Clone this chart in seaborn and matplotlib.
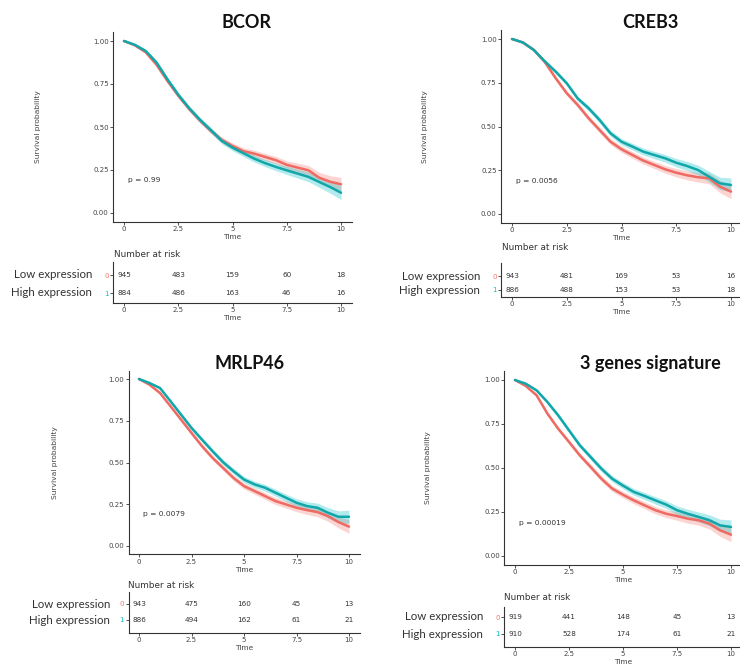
import matplotlib
matplotlib.use("Agg")
import matplotlib.pyplot as plt
import numpy as np
import pandas as pd
import seaborn as sns

sns.set_theme(style="white")
plt.rcParams["font.family"] = ["DejaVu Sans"]

# ---------------- data ----------------
times = [0, 0.5, 1, 1.5, 2, 2.5, 3, 3.5, 4, 4.5, 5, 5.5, 6, 6.5, 7, 7.5, 8, 8.5, 9, 9.5, 10]

bcor_low = [1.0, 0.975, 0.935, 0.862, 0.768, 0.682, 0.605, 0.538, 0.478, 0.425, 0.39, 0.36,
            0.345, 0.326, 0.307, 0.28, 0.264, 0.248, 0.205, 0.182, 0.167]
bcor_high = [1.0, 0.978, 0.942, 0.875, 0.778, 0.688, 0.61, 0.542, 0.482, 0.42, 0.38, 0.348,
             0.316, 0.29, 0.268, 0.248, 0.229, 0.21, 0.18, 0.151, 0.118]

creb3_low = [1.0, 0.98, 0.937, 0.868, 0.775, 0.69, 0.623, 0.547, 0.48, 0.413, 0.37, 0.337,
             0.305, 0.28, 0.255, 0.236, 0.221, 0.21, 0.204, 0.156, 0.128]
creb3_high = [1.0, 0.98, 0.937, 0.872, 0.813, 0.747, 0.66, 0.604, 0.537, 0.461, 0.413, 0.385,
              0.356, 0.337, 0.318, 0.293, 0.274, 0.251, 0.213, 0.175, 0.166]

mrlp46_low = [1.0, 0.966, 0.916, 0.837, 0.757, 0.677, 0.598, 0.528, 0.468, 0.408, 0.359, 0.329,
              0.299, 0.269, 0.249, 0.229, 0.215, 0.203, 0.179, 0.143, 0.116]
mrlp46_high = [1.0, 0.976, 0.946, 0.867, 0.787, 0.707, 0.637, 0.568, 0.502, 0.448, 0.398, 0.369,
               0.349, 0.319, 0.289, 0.259, 0.239, 0.229, 0.199, 0.175, 0.175]

sig_low = [1.0, 0.966, 0.913, 0.809, 0.723, 0.648, 0.572, 0.506, 0.439, 0.383, 0.348, 0.316,
           0.288, 0.26, 0.24, 0.227, 0.212, 0.203, 0.184, 0.146, 0.121]
sig_high = [1.0, 0.979, 0.941, 0.875, 0.799, 0.714, 0.629, 0.5625, 0.496, 0.439, 0.40, 0.364,
            0.341, 0.316, 0.292, 0.26, 0.24, 0.222, 0.203, 0.174, 0.165]

# half-width of the confidence bands
ci_half = [0.0, 0.006, 0.009, 0.011, 0.012, 0.013, 0.014, 0.015, 0.016, 0.017, 0.018, 0.019,
           0.02, 0.021, 0.022, 0.024, 0.026, 0.028, 0.031, 0.035, 0.04]

titles = ["BCOR", "CREB3", "MRLP46", "3 genes signature"]
p_values = ["p = 0.99", "p = 0.0056", "p = 0.0079", "p = 0.00019"]

risk_times = [0, 2.5, 5, 7.5, 10]
bcor_risk_low = [945, 483, 159, 60, 18]
bcor_risk_high = [884, 486, 163, 46, 16]
creb3_risk_low = [943, 481, 169, 53, 16]
creb3_risk_high = [886, 488, 153, 53, 18]
mrlp46_risk_low = [943, 475, 160, 45, 13]
mrlp46_risk_high = [886, 494, 162, 61, 21]
sig_risk_low = [919, 441, 148, 45, 13]
sig_risk_high = [910, 528, 174, 61, 21]

groups = ["Low expression", "High expression"]
strata_codes = ["0", "1"]
xticks = [0, 2.5, 5, 7.5, 10]
xtick_labels = ["0", "2.5", "5", "7.5", "10"]
yticks = [0, 0.25, 0.5, 0.75, 1.0]
ytick_labels = ["0.00", "0.25", "0.50", "0.75", "1.00"]

curves = [(bcor_low, bcor_high), (creb3_low, creb3_high),
          (mrlp46_low, mrlp46_high), (sig_low, sig_high)]
risks = [(bcor_risk_low, bcor_risk_high), (creb3_risk_low, creb3_risk_high),
         (mrlp46_risk_low, mrlp46_risk_high), (sig_risk_low, sig_risk_high)]

# ---------------- layout (pixels) ----------------
W, H = 740, 665
layout = [
    dict(x0=124, x10=341, y1=41, y0=213, t_top=262, t_low=275, t_high=293, t_bot=303,
         lab_r=92, ylab_x=38, title=(247, 22), nar=(114, 254)),
    dict(x0=512, x10=731, y1=39, y0=214, t_top=263, t_low=276, t_high=290, t_bot=297,
         lab_r=480, ylab_x=425, title=(650, 22), nar=(502, 247)),
    dict(x0=139, x10=349, y1=379, y0=546, t_top=592, t_low=604, t_high=620, t_bot=633,
         lab_r=110, ylab_x=55, title=(250, 363), nar=(128, 585)),
    dict(x0=515, x10=731, y1=380, y0=556, t_top=607, t_low=617, t_high=634, t_bot=647,
         lab_r=483, ylab_x=428, title=(650, 363), nar=(504, 597)),
]

RED_LINE, TEAL_LINE = "#EE6A62", "#11A7AA"
RED_FILL, TEAL_FILL = "#F8766D", "#00BFC4"
SPINE = "#333333"

fig = plt.figure(figsize=(W / 100, H / 100), dpi=100)
fig.patch.set_facecolor("white")


def add_ax(l, t, r, b):
    return fig.add_axes([l / W, 1 - b / H, (r - l) / W, (b - t) / H])


def style_axis(ax):
    for s in ["top", "right"]:
        ax.spines[s].set_visible(False)
    for s in ["left", "bottom"]:
        ax.spines[s].set_color(SPINE)
        ax.spines[s].set_linewidth(0.8)
    ax.tick_params(axis="both", which="both", length=2, width=0.6, color=SPINE,
                   labelsize=5, labelcolor="#444444", pad=1.2, left=True, bottom=True)
    ax.set_facecolor("white")
    ax.grid(False)


for i, (L, (low, high), (rlow, rhigh)) in enumerate(zip(layout, curves, risks)):
    ux = (L["x10"] - L["x0"]) / 10.0
    uy = (L["y0"] - L["y1"])
    left = L["x0"] - 0.5 * ux
    right = L["x10"] + 0.5 * ux
    top = L["y1"] - 0.05 * uy
    bottom = L["y0"] + 0.05 * uy

    ax = add_ax(left, top, right, bottom)
    df = pd.DataFrame({
        "time": times * 2,
        "surv": list(low) + list(high),
        "group": [groups[0]] * len(times) + [groups[1]] * len(times),
    })
    lo_arr, hi_arr, ci = np.array(low), np.array(high), np.array(ci_half)
    ax.fill_between(times, lo_arr - ci, lo_arr + ci, color=RED_FILL, alpha=0.3, lw=0)
    ax.fill_between(times, hi_arr - ci, hi_arr + ci, color=TEAL_FILL, alpha=0.3, lw=0)
    sns.lineplot(data=df, x="time", y="surv", hue="group", hue_order=groups,
                 palette=[RED_LINE, TEAL_LINE], legend=False, ax=ax, lw=1.8)
    ax.set_xlim(-0.5, 10.5)
    ax.set_ylim(-0.05, 1.05)
    ax.set_xticks(xticks)
    ax.set_xticklabels(xtick_labels)
    ax.set_yticks(yticks)
    ax.set_yticklabels(ytick_labels)
    style_axis(ax)
    ax.set_xlabel("Time", fontsize=5.4, color="#444444", labelpad=1.5)
    ax.set_ylabel("")
    ax.text(0.2, 0.19, p_values[i], fontsize=5.4, color="#333333", ha="left", va="center")

    fig.text(L["ylab_x"] / W, 1 - ((top + bottom) / 2) / H, "Survival probability",
             rotation=90, fontsize=5.4, color="#444444", ha="center", va="center")

    fig.text(L["title"][0] / W, 1 - L["title"][1] / H, titles[i], fontsize=13,
             fontweight="bold", family="Lato", color="#111111", ha="center", va="center")

    # risk table
    u = L["t_high"] - L["t_low"]
    tax = add_ax(left, L["t_top"], right, L["t_bot"])
    ylo = 1 - (L["t_bot"] - L["t_high"]) / u
    yhi = 2 + (L["t_low"] - L["t_top"]) / u
    tax.set_xlim(-0.5, 10.5)
    tax.set_ylim(ylo, yhi)
    for t, v in zip(risk_times, rlow):
        tax.text(t, 2, str(v), fontsize=5.2, color="#333333", ha="center", va="center")
    for t, v in zip(risk_times, rhigh):
        tax.text(t, 1, str(v), fontsize=5.2, color="#333333", ha="center", va="center")
    tax.set_xticks(xticks)
    tax.set_xticklabels(xtick_labels)
    tax.set_yticks([2, 1])
    tax.set_yticklabels(strata_codes)
    style_axis(tax)
    tl = tax.get_yticklabels()
    tl[0].set_color(RED_FILL)
    tl[1].set_color(TEAL_FILL)
    tax.set_xlabel("Time", fontsize=5.4, color="#444444", labelpad=1.0)

    fig.text(L["nar"][0] / W, 1 - L["nar"][1] / H, "Number at risk", fontsize=6.4,
             color="#333333", ha="left", va="center")

    fig.text(L["lab_r"] / W, 1 - L["t_low"] / H, groups[0], fontsize=8.3, family="Lato",
             color="#333333", ha="right", va="center")
    fig.text(L["lab_r"] / W, 1 - L["t_high"] / H, groups[1], fontsize=8.3, family="Lato",
             color="#333333", ha="right", va="center")

fig.savefig("out.png", dpi=100, facecolor="white")
